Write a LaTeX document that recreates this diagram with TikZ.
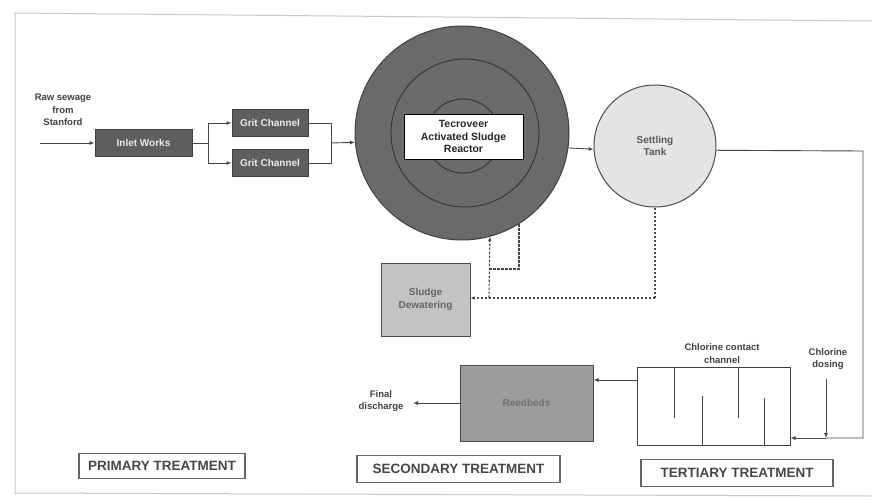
\documentclass[tikz,border=0pt]{standalone}
\usepackage{fontspec}
\setmainfont{Liberation Sans}
\usetikzlibrary{arrows.meta}
\definecolor{ln}{HTML}{474747}
\definecolor{darkbox}{HTML}{5E5E5E}
\definecolor{reactorfill}{HTML}{6A6A6A}
\definecolor{tankfill}{HTML}{E4E4E4}
\definecolor{sludgefill}{HTML}{C3C3C3}
\definecolor{reedfill}{HTML}{9C9C9C}
\definecolor{framec}{HTML}{C8C8C8}
\tikzset{
  conn/.style={draw=ln, line width=0.9pt},
  arr/.style={conn, -{Latex[length=5pt,width=4pt]}},
  dashconn/.style={draw=ln, line width=1.1pt, dashed, dash pattern=on 2.5pt off 1.5pt},
  darkbox/.style={draw=black!75, line width=0.9pt, fill=darkbox, text=white!92!black,
     font=\bfseries\fontsize{10}{12}\selectfont, inner sep=0pt},
  label/.style={text=black!75, font=\bfseries\fontsize{9.5}{12.5}\selectfont, align=center},
  stagebox/.style={draw=black!60, line width=1.3pt, fill=white, inner sep=0pt,
     text=black!72, font=\bfseries\fontsize{13.5}{15}\selectfont},
}
\begin{document}
\begin{tikzpicture}[x=1pt,y=-1pt]
\useasboundingbox (0,0) rectangle (872,500);
\fill[white] (0,0) rectangle (872,500);
% scan frame
\draw[framec, line width=1pt] (15,494) -- (15,13) -- (872,21);
\draw[framec, line width=1pt] (15,493) -- (872,496);

% primary treatment
\node[label] (raw) at (63,110) {Raw sewage\\from\\Stanford};
\coordinate (rawin) at (40,143);
\node[darkbox, minimum width=97pt, minimum height=27pt] (inlet) at (143.5,143) {Inlet Works};
\node[darkbox, minimum width=76pt, minimum height=27pt] (grit1) at (270,123) {Grit Channel};
\node[darkbox, minimum width=76pt, minimum height=27pt] (grit2) at (270,163) {Grit Channel};
\coordinate (split) at (208,143);
\coordinate (join) at (331,143);
\draw[arr] (rawin) -- (inlet.west);
\draw[conn] (inlet.east) -- (split);
\draw[arr] (split) |- (grit1.west);
\draw[arr] (split) |- (grit2.west);
\draw[conn] (grit1.east) -| (join);
\draw[conn] (grit2.east) -| (join);

% reactor
\node[circle, draw=black!75, line width=1pt, fill=reactorfill, minimum size=214pt, inner sep=0pt] (reactor) at (462,133) {};
\node[circle, draw=black!80, line width=0.9pt, minimum size=148pt, inner sep=0pt] (mid) at (465,133) {};
\node[circle, draw=black!80, line width=0.9pt, minimum size=74pt, inner sep=0pt] (inner) at (463,136) {};
\node[draw=black, line width=0.9pt, fill=white, minimum width=119pt, minimum height=45pt, inner sep=0pt,
      align=center, font=\bfseries\fontsize{10.5}{12.5}\selectfont, text=black!85] (rtext) at (463.5,136.5)
      {Tecroveer\\Activated Sludge\\Reactor};
\draw[arr] (join) -- (reactor.185.36);

% settling tank
\node[circle, draw=black!70, line width=1pt, fill=tankfill, minimum size=122pt, inner sep=0pt,
      align=center, font=\bfseries\fontsize{10}{12.5}\selectfont, text=black!65] (tank) at (655,146) {Settling\\Tank};
\draw[arr] (reactor.-8.6) -- (tank.-177.2);

% sludge dewatering
\node[draw=black!70, line width=1pt, fill=sludgefill, minimum width=89pt, minimum height=73pt, inner sep=0pt,
      align=center, font=\bfseries\fontsize{10}{12.5}\selectfont, text=black!60] (sludge) at (425.5,299.5) {Sludge\\Dewatering};
\coordinate (tankdown) at (655,298);
\coordinate (rasj) at (489,298);
\coordinate (wasj) at (489,269);
\draw[dashconn] (tank.south) -- (tankdown);
\draw[dashconn, -{Latex[length=4pt,width=3.5pt]}] (tankdown) -- (sludge.east|-tankdown);
\draw[dashconn, -{Latex[length=4pt,width=3.5pt]}] (rasj) -- (reactor.-75.4);
\draw[dashconn] (reactor.-58.4) |- (wasj);

% chlorine contact channel
\node[draw=black!75, line width=1pt, fill=white, minimum width=153pt, minimum height=78pt, inner sep=0pt] (chlor) at (713.5,406) {};
\draw[conn] (674,367) -- (674,418);
\draw[conn] (702,445) -- (702,396);
\draw[conn] (738,367) -- (738,418);
\draw[conn] (764,445) -- (764,398);
\node[label, font=\bfseries\fontsize{9.5}{13}\selectfont] (cclabel) at (722,354) {Chlorine contact\\channel};
\node[label] (dosing) at (828,359) {Chlorine\\dosing};
\coordinate (dosetop) at (826,379);
\coordinate (dosebot) at (826,438);
\draw[arr] (dosetop) -- (dosebot);
\coordinate (c1) at (863,151);
\coordinate (c2) at (863,438);
\draw[conn] (tank.-4.7) -- (c1) -- (c2) -- (dosebot);
\draw[arr] (dosebot) -- (chlor.east|-dosebot);

% reedbeds
\node[draw=black!70, line width=1pt, fill=reedfill, minimum width=133pt, minimum height=76pt, inner sep=0pt,
      font=\bfseries\fontsize{10}{12}\selectfont, text=black!55] (reed) at (526.5,403) {Reedbeds};
\draw[arr] (chlor.west|-0,380) -- (reed.east|-0,380);
\coordinate (finalout) at (413,403);
\draw[arr] (reed.west) -- (finalout);
\node[label] (final) at (381,401) {Final\\discharge};

% stage labels
\node[stagebox, minimum width=166pt, minimum height=25pt] (prim) at (162,466) {PRIMARY TREATMENT};
\node[stagebox, minimum width=203pt, minimum height=27pt] (sec) at (458.5,469) {SECONDARY TREATMENT};
\node[stagebox, minimum width=192pt, minimum height=27pt] (ter) at (737,473) {TERTIARY TREATMENT};
\end{tikzpicture}
\end{document}
